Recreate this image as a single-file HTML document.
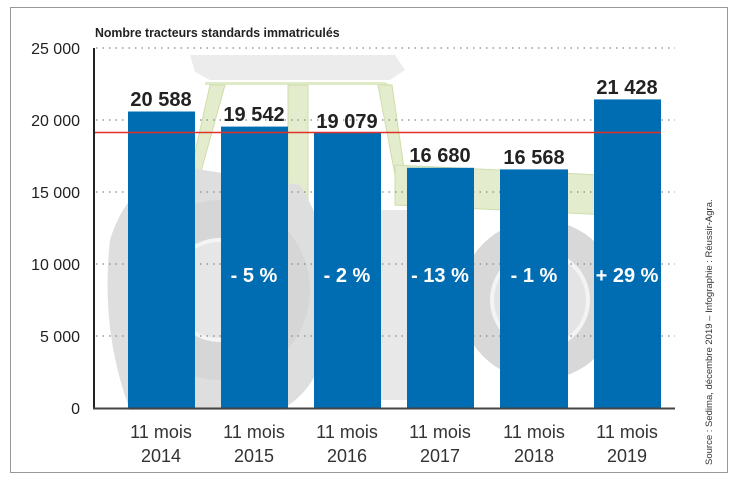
<!DOCTYPE html>
<html><head><meta charset="utf-8"><style>
body{margin:0;background:#fff;}
svg{display:block;font-family:"Liberation Sans",sans-serif;}
</style></head><body>
<svg width="747" height="486" viewBox="0 0 747 486">
<rect x="10.5" y="7.5" width="717" height="465" fill="#fff" stroke="#999" stroke-width="1"/>
<g>
<polygon points="190,55 395,55 405,70 390,80 210,80 195,72" fill="#ececec"/>
<polygon points="205,82 385,82 390,85 205,85" fill="#dfeac6"/>
<polygon points="210,85 225,85 200,175 190,175" fill="#e3edcd" stroke="#cfdcab"/>
<rect x="288" y="85" width="20" height="130" fill="#e3edcd" stroke="#cfdcab"/>
<polygon points="378,85 392,85 405,175 395,175" fill="#e3edcd" stroke="#cfdcab"/>
<polygon points="395,165 600,175 620,200 610,215 395,205" fill="#e3edcd" stroke="#cfdcab"/>
<path d="M110,240 Q130,175 190,168 L300,185 Q340,250 330,330 Q320,390 280,410 L130,410 Q100,330 110,240Z" fill="#dedede"/>
<circle cx="220" cy="290" r="90" fill="#d6d6d6"/>
<circle cx="220" cy="290" r="50" fill="#e6e6e6" stroke="#f4f4f4" stroke-width="4"/>
<rect x="330" y="210" width="80" height="190" fill="#e8e8e8"/>
<circle cx="540" cy="300" r="80" fill="#d8d8d8"/>
<circle cx="540" cy="300" r="48" fill="#e4e4e4" stroke="#f4f4f4" stroke-width="4"/>
</g>
<g stroke="#888" stroke-width="1.2" stroke-dasharray="1.5,5">
<line x1="96" y1="48" x2="675" y2="48"/>
<line x1="96" y1="120" x2="675" y2="120"/>
<line x1="96" y1="192" x2="675" y2="192"/>
<line x1="96" y1="264" x2="675" y2="264"/>
<line x1="96" y1="336" x2="675" y2="336"/>
</g>
<g fill="#006db3">
<rect x="128" y="111.5" width="67" height="296.5"/>
<rect x="221" y="126.6" width="67" height="281.4"/>
<rect x="314" y="133" width="67" height="275"/>
<rect x="407" y="167.8" width="67" height="240.2"/>
<rect x="500" y="169.4" width="68" height="238.6"/>
<rect x="594" y="99.4" width="67" height="308.6"/>
</g>
<line x1="94" y1="132.5" x2="661" y2="132.5" stroke="#e0302a" stroke-width="1.5"/>
<line x1="94" y1="48" x2="94" y2="409" stroke="#222" stroke-width="2"/>
<line x1="93" y1="408.5" x2="675" y2="408.5" stroke="#444" stroke-width="2"/>
<text x="95" y="37" font-size="13" font-weight="bold" fill="#222" transform="scale(0.95,1) translate(5,0)">Nombre tracteurs standards immatriculés</text>
<g font-size="16" fill="#222" text-anchor="end">
<text x="80" y="54">25 000</text>
<text x="80" y="126">20 000</text>
<text x="80" y="198">15 000</text>
<text x="80" y="270">10 000</text>
<text x="80" y="342">5 000</text>
<text x="80" y="414">0</text>
</g>
<g font-size="20" font-weight="bold" fill="#222" text-anchor="middle">
<text x="161" y="106">20 588</text>
<text x="254" y="121">19 542</text>
<text x="347" y="128">19 079</text>
<text x="440" y="162">16 680</text>
<text x="534" y="164">16 568</text>
<text x="627" y="94">21 428</text>
</g>
<g font-size="20" font-weight="bold" fill="#fff" text-anchor="middle">
<text x="254" y="282">- 5 %</text>
<text x="347" y="282">- 2 %</text>
<text x="440" y="282">- 13 %</text>
<text x="534" y="282">- 1 %</text>
<text x="627" y="282">+ 29 %</text>
</g>
<g font-size="18" fill="#333" text-anchor="middle">
<text x="161" y="438">11 mois</text><text x="161" y="462">2014</text>
<text x="254" y="438">11 mois</text><text x="254" y="462">2015</text>
<text x="347" y="438">11 mois</text><text x="347" y="462">2016</text>
<text x="440" y="438">11 mois</text><text x="440" y="462">2017</text>
<text x="534" y="438">11 mois</text><text x="534" y="462">2018</text>
<text x="627" y="438">11 mois</text><text x="627" y="462">2019</text>
</g>
<text transform="translate(712,465) rotate(-90)" font-size="9.5" fill="#333">Source : Sedima, décembre 2019 – Infographie : Réussir-Agra.</text>
</svg>
</body></html>
